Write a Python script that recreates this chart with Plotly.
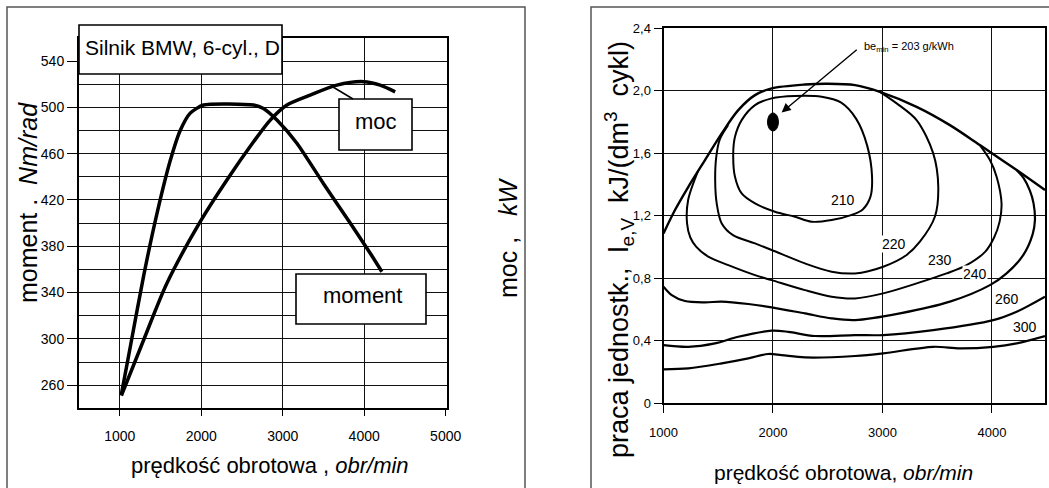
import plotly.graph_objects as go

W, H = 1049, 488

# ---------------- data: left panel ----------------
moment_rpm = [1020, 1129, 1292, 1456, 1620, 1742, 1865, 2028, 2642, 2764, 2929, 3174, 3501, 3828, 4074, 4217]
moment_nm = [252, 293, 354, 408, 454, 480, 495, 502, 502, 499, 489, 469, 434, 400, 374, 358]

power_rpm = [1020, 1292, 1579, 1988, 2315, 2642, 2847, 3052, 3337, 3665, 3991, 4196, 4380]
power_kw = [25.5, 49.4, 74, 100.6, 118.6, 135.1, 144.5, 151, 155.3, 159.6, 161.1, 159.6, 156.7]

left_x_ticks = [1000, 2000, 3000, 4000, 5000]
left_y_ticks = [260, 300, 340, 380, 420, 460, 500, 540]
left_y_grid = list(range(240, 561, 20))
right_y_ticks = [20, 40, 60, 80, 100, 120, 140, 160, 180]

# ---------------- data: right panel ----------------
env_rpm = [1000, 1105, 1227, 1379, 1532, 1683, 1836, 1988, 2292, 2500, 2750, 2977, 3312, 3616, 3890, 4226, 4485]
env_val = [1.086, 1.236, 1.385, 1.556, 1.727, 1.876, 1.972, 2.015, 2.040, 2.045, 2.036, 1.993, 1.897, 1.780, 1.652, 1.492, 1.364]

c210_rpm = [1637, 1653, 1714, 1836, 1988, 2201, 2445, 2620, 2760, 2860, 2905, 2890, 2820, 2720, 2536, 2353, 2201, 2018, 1836, 1714, 1653, 1637]
c210_val = [1.599, 1.705, 1.812, 1.908, 1.951, 1.966, 1.961, 1.925, 1.820, 1.650, 1.450, 1.320, 1.240, 1.205, 1.172, 1.161, 1.193, 1.225, 1.278, 1.342, 1.449, 1.599]

c220_rpm = [1590, 1515, 1482, 1472, 1486, 1532, 1635, 1836, 1988, 2292, 2536, 2749, 3007, 3221, 3342, 3479, 3510, 3464, 3312, 3130, 2977]
c220_val = [1.780, 1.690, 1.577, 1.428, 1.278, 1.150, 1.075, 1.022, 0.980, 0.894, 0.841, 0.830, 0.873, 0.948, 1.033, 1.193, 1.385, 1.599, 1.812, 1.919, 1.993]

c230_rpm = [1318, 1225, 1215, 1245, 1300, 1409, 1592, 1836, 1988, 2292, 2536, 2749, 3007, 3312, 3586, 3769, 3940, 4020, 4070, 4088, 4043, 3982, 3890]
c230_val = [1.490, 1.300, 1.150, 1.060, 1.000, 0.937, 0.883, 0.819, 0.787, 0.723, 0.681, 0.670, 0.702, 0.766, 0.830, 0.883, 0.970, 1.060, 1.160, 1.278, 1.449, 1.556, 1.652]

c240_rpm = [1000, 1075, 1196, 1379, 1532, 1775, 1988, 2292, 2536, 2749, 3160, 3616, 3982, 4134, 4286, 4372, 4393, 4380, 4347, 4290, 4226]
c240_val = [0.745, 0.691, 0.653, 0.645, 0.649, 0.634, 0.613, 0.574, 0.542, 0.531, 0.574, 0.649, 0.755, 0.830, 0.947, 1.080, 1.170, 1.280, 1.360, 1.440, 1.492]

c260_rpm = [1000, 1227, 1470, 1683, 1988, 2140, 2383, 2749, 3007, 3464, 4012, 4226, 4485]
c260_val = [0.371, 0.360, 0.382, 0.424, 0.463, 0.456, 0.429, 0.435, 0.435, 0.467, 0.531, 0.585, 0.681]

c300_rpm = [1000, 1227, 1532, 1775, 1957, 2079, 2292, 2749, 3007, 3464, 3708, 4012, 4226, 4485]
c300_val = [0.216, 0.222, 0.254, 0.286, 0.314, 0.307, 0.292, 0.301, 0.318, 0.360, 0.350, 0.360, 0.382, 0.429]

contour_levels = ["210", "220", "230", "240", "260", "300"]
label_rpm = [2640, 3105, 3530, 3850, 4140, 4300]
label_val = [1.30, 1.02, 0.915, 0.828, 0.665, 0.485]

be_min_rpm, be_min_val = 2000, 1.80
be_arrow_tail_rpm, be_arrow_tail_val = 2779, 2.271
be_arrow_head_rpm, be_arrow_head_val = 2079, 1.861

right_x_ticks = [1000, 2000, 3000, 4000]
right_y_ticks = [0, 0.4, 0.8, 1.2, 1.6, 2.0, 2.4]
right_y_text = ["0", "0,4", "0,8", "1,2", "1,6", "2,0", "2,4"]

# ---------------- helpers ----------------
def px(x):
    return x / W

def py(y):
    return 1 - y / H

NARROW = "Liberation Sans Narrow, Arial Narrow, Liberation Sans, sans-serif"
SANS = "Liberation Sans, Arial, Helvetica, sans-serif"
GRID = "#111111"

fig = go.Figure()

fig.add_trace(go.Scatter(x=moment_rpm, y=moment_nm, mode="lines", xaxis="x", yaxis="y",
                         line=dict(color="black", width=3.5, shape="spline", smoothing=0.6),
                         showlegend=False, hoverinfo="skip"))
fig.add_trace(go.Scatter(x=power_rpm, y=power_kw, mode="lines", xaxis="x", yaxis="y2",
                         line=dict(color="black", width=3.5, shape="spline", smoothing=0.8),
                         showlegend=False, hoverinfo="skip"))

for xs, ys, w in [(env_rpm, env_val, 2.4), (c210_rpm, c210_val, 2.0), (c220_rpm, c220_val, 2.0),
                  (c230_rpm, c230_val, 2.0), (c240_rpm, c240_val, 2.2), (c260_rpm, c260_val, 2.2),
                  (c300_rpm, c300_val, 2.2)]:
    fig.add_trace(go.Scatter(x=xs, y=ys, mode="lines", xaxis="x2", yaxis="y3",
                             line=dict(color="black", width=w, shape="spline", smoothing=0.9),
                             showlegend=False, hoverinfo="skip"))

tickfont = dict(family=NARROW, size=14, color="black")

fig.update_layout(
    width=W, height=H,
    margin=dict(l=0, r=0, t=0, b=0, autoexpand=False),
    paper_bgcolor="white", plot_bgcolor="white",
    xaxis=dict(domain=[px(79), px(446.5)], range=[500, 5010], tickvals=left_x_ticks,
               ticks="outside", ticklen=6, tickcolor="black", tickwidth=1,
               showgrid=True, gridcolor=GRID, gridwidth=1, zeroline=False,
               showline=True, mirror=True, linecolor="black", linewidth=2, automargin=False,
               anchor="y", tickfont=tickfont, ticklabelstandoff=8),
    yaxis=dict(domain=[py(408.3), py(37.9)], range=[240, 560], tickvals=left_y_ticks,
               ticks="outside", ticklen=10, tickcolor="black", tickwidth=1,
               showgrid=False, zeroline=False, automargin=False,
               minor=dict(tickvals=left_y_grid, showgrid=True, gridcolor=GRID, gridwidth=1, ticks=""),
               showline=True, mirror=True, linecolor="black", linewidth=2,
               anchor="x", tickfont=tickfont),
    yaxis2=dict(overlaying="y", side="right", anchor="x", range=[20, 180], tickvals=right_y_ticks,
                ticks="outside", ticklen=5, tickcolor="black", tickwidth=1, automargin=False,
                showgrid=False, zeroline=False, showline=False, tickfont=tickfont),
    xaxis2=dict(domain=[px(663.5), px(1045)], range=[1000, 4485], tickvals=right_x_ticks,
                ticks="outside", ticklen=8, tickcolor="black", tickwidth=1,
                showgrid=True, gridcolor=GRID, gridwidth=1, zeroline=False, automargin=False,
                showline=True, mirror=True, linecolor="black", linewidth=2,
                anchor="y3", tickfont=dict(family=NARROW, size=13, color="black"), ticklabelstandoff=8),
    yaxis3=dict(domain=[py(403), py(28.3)], range=[0, 2.4], tickvals=right_y_ticks, ticktext=right_y_text,
                ticks="outside", ticklen=8, tickcolor="black", tickwidth=1, automargin=False,
                showgrid=True, gridcolor=GRID, gridwidth=1, zeroline=False,
                showline=True, mirror=True, linecolor="black", linewidth=2,
                anchor="x2", tickfont=dict(family=NARROW, size=13, color="black")),
)

shapes = []
# outer frames
shapes.append(dict(type="rect", xref="paper", yref="paper", x0=px(7), x1=px(525), y0=-0.05, y1=py(7),
                   line=dict(color="#555", width=1.5), layer="below"))
shapes.append(dict(type="rect", xref="paper", yref="paper", x0=px(591), x1=1.05, y0=-0.05, y1=py(7),
                   line=dict(color="#555", width=1.5), layer="below"))
# label boxes (left panel)
for (x0, x1, y0, y1) in [(79, 282, 25, 74), (339, 412, 99, 150), (296, 426, 274, 324)]:
    shapes.append(dict(type="rect", xref="paper", yref="paper", x0=px(x0), x1=px(x1), y0=py(y1), y1=py(y0),
                       line=dict(color="black", width=1.6), fillcolor="white", layer="above"))
# leader line to "moc"
shapes.append(dict(type="line", xref="paper", yref="paper", x0=px(333), y0=py(87), x1=px(353), y1=py(99),
                   line=dict(color="black", width=1.5), layer="above"))
# be_min point
shapes.append(dict(type="circle", xref="x2", yref="y3",
                   x0=be_min_rpm - 50, x1=be_min_rpm + 50, y0=be_min_val - 0.058, y1=be_min_val + 0.058,
                   fillcolor="black", line=dict(color="black", width=1), layer="above"))
fig.update_layout(shapes=shapes)

ann = []
big = dict(family=SANS, size=22, color="black")
ytit = dict(family=SANS, size=25, color="black")
C = dict(xanchor="center", yanchor="middle", showarrow=False)
ann.append(dict(xref="paper", yref="paper", x=px(182), y=py(47), text="Silnik BMW, 6-cyl., D",
                font=dict(family=SANS, size=21, color="black"), **C))
ann.append(dict(xref="paper", yref="paper", x=px(376), y=py(121), text="moc", font=big, **C))
ann.append(dict(xref="paper", yref="paper", x=px(362), y=py(295), text="moment", font=big, **C))
ann.append(dict(xref="paper", yref="paper", x=px(28), y=py(203), textangle=-90,
                text="moment .\u00a0\u00a0<i>Nm/rad</i>", font=ytit, **C))
ann.append(dict(xref="paper", yref="paper", x=px(508), y=py(238), textangle=-90,
                text="moc ,\u00a0\u00a0\u00a0<i>kW</i>", font=ytit, **C))
ann.append(dict(xref="paper", yref="paper", x=px(270), y=py(465),
                text="prędkość obrotowa , <i>obr/min</i>", font=big, **C))
ann.append(dict(xref="paper", yref="paper", x=px(843), y=py(472),
                text="prędkość obrotowa, <i>obr/min</i>",
                font=dict(family=SANS, size=21, color="black"), **C))
ann.append(dict(xref="paper", yref="paper", x=px(619), y=py(250), textangle=-90,
                text="praca jednostk.,\u00a0 l<sub>e,V</sub>\u00a0 kJ/(dm<sup>3</sup>\u00a0 cykl)",
                font=dict(family=SANS, size=27, color="black"), **C))
# arrow to be_min
ann.append(dict(xref="x2", yref="y3", x=be_arrow_head_rpm, y=be_arrow_head_val,
                axref="x2", ayref="y3", ax=be_arrow_tail_rpm, ay=be_arrow_tail_val,
                text="", showarrow=True, arrowhead=2, arrowsize=1.3, arrowwidth=1.4, arrowcolor="black"))
ann.append(dict(xref="x2", yref="y3", x=be_arrow_tail_rpm + 35, y=be_arrow_tail_val + 0.01,
                xanchor="left", yanchor="middle", text="be<sub>min</sub> = 203 g/kWh", showarrow=False,
                font=dict(family=NARROW, size=11, color="black")))
for lab, lx, ly in zip(contour_levels, label_rpm, label_val):
    ann.append(dict(xref="x2", yref="y3", x=lx, y=ly, text=lab,
                    bgcolor="white", borderpad=0, font=dict(family=NARROW, size=14, color="black"), **C))
fig.update_layout(annotations=ann)

fig.write_html("out.html", config={"displayModeBar": False, "staticPlot": True},
               post_script="document.body.style.margin='0';document.body.style.padding='0';"
                           "document.body.style.overflow='hidden';")
